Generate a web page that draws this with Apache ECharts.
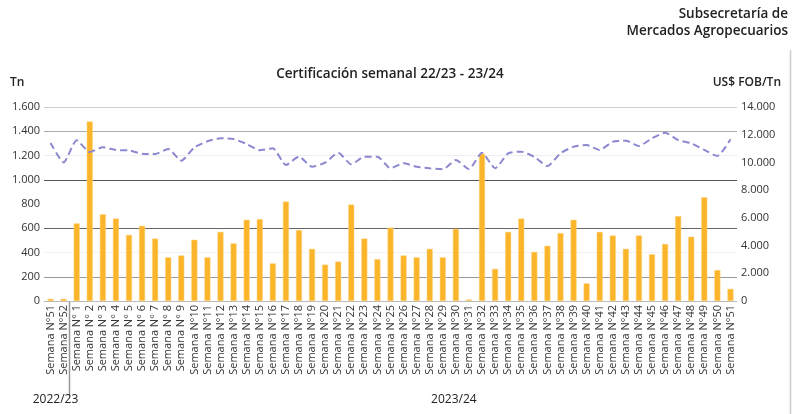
<!DOCTYPE html>
<html><head><meta charset="utf-8">
<script src="https://cdn.jsdelivr.net/npm/echarts@6/dist/echarts.min.js"></script>
<style>html,body{margin:0;padding:0;background:#fff}#c{width:803px;height:414px}</style>
</head><body><div id="c"></div>
<script>
const categories = ["Semana N°51","Semana N°52","Semana N° 1","Semana N° 2","Semana N° 3","Semana N° 4","Semana N° 5","Semana N° 6","Semana N° 7","Semana N° 8","Semana N° 9","Semana N°10","Semana N°11","Semana N°12","Semana N°13","Semana N°14","Semana N°15","Semana N°16","Semana N°17","Semana N°18","Semana N°19","Semana N°20","Semana N°21","Semana N°22","Semana N°23","Semana N°24","Semana N°25","Semana N°26","Semana N°27","Semana N°28","Semana N°29","Semana N°30","Semana N°31","Semana N°32","Semana N°33","Semana N°34","Semana N°35","Semana N°36","Semana N°37","Semana N°38","Semana N°39","Semana N°40","Semana N°41","Semana N°42","Semana N°43","Semana N°44","Semana N°45","Semana N°46","Semana N°47","Semana N°48","Semana N°49","Semana N°50","Semana N°51"];
const tonnes = [18,18,640,1480,715,680,545,620,515,360,375,505,360,570,475,670,675,310,820,585,430,300,325,795,515,345,605,375,360,430,360,595,12,1215,265,570,680,405,455,560,670,145,570,540,430,540,385,470,700,530,855,255,100];
const priceFob = [11400,10000,11600,10750,11100,10900,10870,10630,10610,10970,10125,11090,11525,11740,11690,11330,10875,11020,9815,10415,9690,9980,10700,9865,10415,10415,9575,9935,9690,9575,9500,10175,9520,10700,9575,10655,10775,10400,9740,10655,11135,11260,10900,11495,11570,11185,11740,12145,11620,11380,10900,10465,11670];
const seasonLabels = ["2022/23","2023/24"];
const FONT = '"Open Sans", sans-serif';
const fmt = v => String(v).replace(/\B(?=(\d{3})+(?!\d))/g, '.');

const chart = echarts.init(document.getElementById('c'));
chart.setOption({
  animation:false,
  textStyle:{fontFamily:FONT},
  grid:{left:44,right:66,top:107,bottom:113},
  title:{text:'Certificación semanal 22/23 - 23/24',left:385,top:62,textAlign:'center',
    textStyle:{fontFamily:FONT,fontSize:13.5,fontWeight:600,color:'#222'}},
  xAxis:{type:'category',data:categories,
    axisLine:{show:true,lineStyle:{color:'#bbb'}},axisTick:{show:false},
    axisLabel:{rotate:90,interval:0,fontSize:11,color:'#333',margin:4,fontFamily:FONT}},
  yAxis:[
    {type:'value',min:0,max:1600,interval:200,name:'Tn',nameLocation:'end',nameGap:18,
     nameTextStyle:{align:'left',padding:[0,0,0,-34],fontSize:12,fontWeight:600,color:'#222',fontFamily:FONT},
     axisLabel:{formatter:fmt,fontSize:11,color:'#333',margin:4,fontFamily:FONT},
     axisLine:{show:false},axisTick:{show:false},
     splitLine:{show:true,lineStyle:{width:1,color:['#bbb','#999','#f2f2f2','#666','rgba(0,0,0,0)','#555','#eee','#aaa','#ccc']}}},
    {type:'value',min:0,max:14000,interval:2000,name:'US$ FOB/Tn',nameLocation:'end',nameGap:18,
     nameTextStyle:{align:'right',padding:[0,-44,0,0],fontSize:12,fontWeight:600,color:'#222',fontFamily:FONT},
     axisLabel:{formatter:fmt,fontSize:11,color:'#333',margin:4,fontFamily:FONT},
     axisLine:{show:false},axisTick:{show:false},splitLine:{show:false}}
  ],
  series:[
    {type:'bar',data:tonnes,yAxisIndex:0,barWidth:6,
     itemStyle:{color:'#FBB52B',borderColor:'#FCD07A',borderWidth:0.5}},
    {type:'line',data:priceFob,yAxisIndex:1,symbol:'none',smooth:0.2,
     lineStyle:{color:'#8B88D0',width:2,type:[7,4]}}
  ]
});

const p0 = chart.convertToPixel({xAxisIndex:0,yAxisIndex:0},[1,0]);
const p1 = chart.convertToPixel({xAxisIndex:0,yAxisIndex:0},[2,0]);
const sepX = Math.round((p0[0]+p1[0])/2)-0.5;
const cMid = chart.convertToPixel({xAxisIndex:0,yAxisIndex:0},[31,0])[0];
chart.setOption({graphic:[
  {type:'line',shape:{x1:sepX,y1:p0[1],x2:sepX,y2:396},style:{stroke:'#999',lineWidth:1.5}},
  {type:'text',x:sepX-14,y:400,style:{text:seasonLabels[0],textAlign:'center',textVerticalAlign:'middle',font:'12px '+FONT,fill:'#222'}},
  {type:'text',x:cMid-2,y:400,style:{text:seasonLabels[1],textAlign:'center',textVerticalAlign:'middle',font:'12px '+FONT,fill:'#222'}},
  {type:'text',x:788,y:14,style:{text:'Subsecretaría de',textAlign:'right',textVerticalAlign:'middle',font:'600 13.5px '+FONT,fill:'#222'}},
  {type:'text',x:788,y:31,style:{text:'Mercados Agropecuarios',textAlign:'right',textVerticalAlign:'middle',font:'600 13.5px '+FONT,fill:'#222'}},
  {type:'line',shape:{x1:790.5,y1:50,x2:790.5,y2:414},style:{stroke:'#ccc',lineWidth:1.5}}
]});
</script></body></html>
